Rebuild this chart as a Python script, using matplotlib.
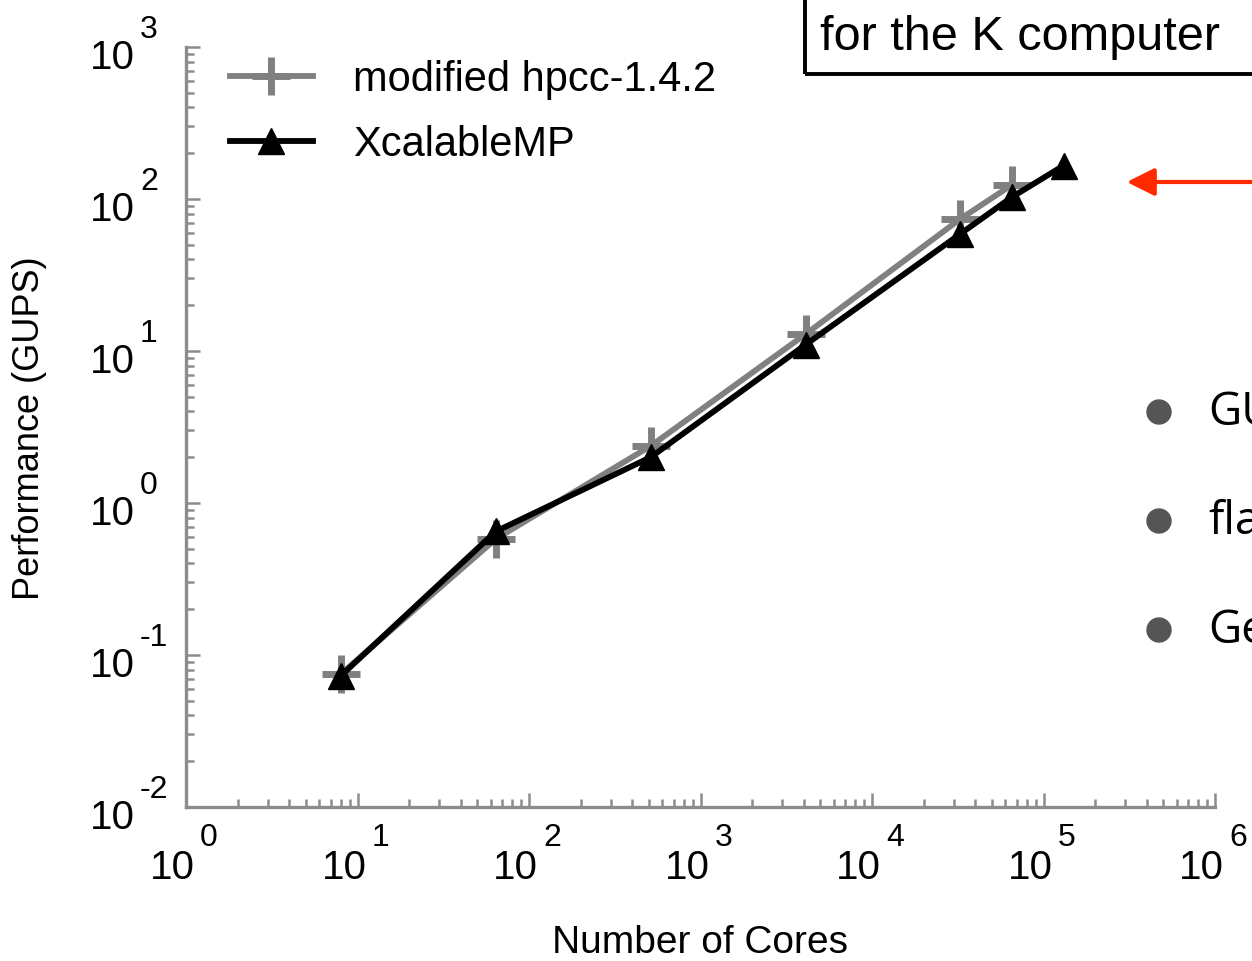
import matplotlib
matplotlib.use("Agg")
import matplotlib.pyplot as plt
import matplotlib.transforms as mtransforms
from matplotlib.patches import Rectangle, FancyArrowPatch, Ellipse

# data
cores_xmp = [8, 64, 512, 4096, 32768, 65536, 131072]
gups_xmp = [0.073, 0.65, 2.0, 11.0, 59.0, 103.0, 166.0]
cores_hpcc = [8, 64, 512, 4096, 32768, 65536]
gups_hpcc = [0.075, 0.58, 2.37, 12.9, 74.0, 124.0]
x_decades = [0, 1, 2, 3, 4, 5, 6]
y_decades = [-2, -1, 0, 1, 2, 3]
bullets = ["GUPS", "flat", "Ge"]

plt.rcParams['font.family'] = ['Liberation Sans', 'DejaVu Sans']
axis_gray = "#8c8c8c"

fig = plt.figure(figsize=(12.52, 9.62), dpi=100)
ax = fig.add_axes([186 / 1252, 1 - 808 / 962, (1215 - 186) / 1252, (808 - 48) / 962])

ax.plot(cores_hpcc, gups_hpcc, color="#808080", lw=4.2, marker="+", ms=28, mew=5,
        label="modified hpcc-1.4.2", zorder=3)
ax.plot(cores_xmp, gups_xmp, color="black", lw=4.2, marker="^", ms=19,
        label="XcalableMP", zorder=4)

ax.set_xscale("log")
ax.set_yscale("log")
ax.set_xlim(1, 1e6)
ax.set_ylim(1e-2, 1e3)

for s in ["top", "right"]:
    ax.spines[s].set_visible(False)
for s in ["left", "bottom"]:
    ax.spines[s].set_color(axis_gray)
    ax.spines[s].set_linewidth(2.4)
ax.tick_params(which="both", direction="in", color=axis_gray, width=1.8,
               labelbottom=False, labelleft=False)
ax.tick_params(which="major", length=10)
ax.tick_params(which="minor", length=6)
ax.set_xticks([10.0 ** d for d in x_decades])
ax.set_yticks([10.0 ** d for d in y_decades])

# tick labels drawn as "10" with a raised exponent
lab_fs = 29
exp_fs = 23
bx = ax.get_xaxis_transform()
for d in x_decades:
    t1 = mtransforms.offset_copy(bx, fig=fig, x=9, y=-71, units="dots")
    ax.text(10.0 ** d, 0, "10", transform=t1, ha="right", va="baseline", fontsize=lab_fs)
    t2 = mtransforms.offset_copy(bx, fig=fig, x=14, y=-38, units="dots")
    ax.text(10.0 ** d, 0, str(d), transform=t2, ha="left", va="baseline", fontsize=exp_fs)
by = ax.get_yaxis_transform()
for d in y_decades:
    t1 = mtransforms.offset_copy(by, fig=fig, x=-51, y=-21, units="dots")
    ax.text(0, 10.0 ** d, "10", transform=t1, ha="right", va="baseline", fontsize=lab_fs)
    t2 = mtransforms.offset_copy(by, fig=fig, x=-46, y=10, units="dots")
    ax.text(0, 10.0 ** d, str(d), transform=t2, ha="left", va="baseline", fontsize=exp_fs)

ax.set_xlabel("Number of Cores", fontsize=28, labelpad=84)
ax.set_ylabel("Performance (GUPS)", fontsize=26, labelpad=100)

leg = ax.legend(loc="upper left", bbox_to_anchor=(0.006, 1.033), frameon=False,
                fontsize=30, handlelength=2.0, handletextpad=0.95, labelspacing=0.6)

# slide decorations around the chart
fig.patches.append(Rectangle((805 / 1252, 1 - 75 / 962), 0.4, 0.2, transform=fig.transFigure,
                             fill=False, ec="black", lw=2.8))
fig.text(820 / 1252, 1 - 50 / 962, "for the K computer", fontsize=35, va="baseline")
fig.patches.append(FancyArrowPatch((1.01, 1 - 183 / 962), (1124 / 1252, 1 - 183 / 962),
                                   transform=fig.transFigure, arrowstyle="-|>",
                                   mutation_scale=42, color="#ff2a00", lw=3))
for i, b in enumerate(bullets):
    yb = 1 - (413 + i * 109) / 962
    fig.patches.append(Ellipse((1159 / 1252, yb), 24 / 1252, 24 / 962,
                               transform=fig.transFigure, color="#555555"))
    fig.text(1208 / 1252, yb, b, fontsize=33, va="center",
             family=['Open Sans', 'DejaVu Sans'])

fig.savefig("out.png", dpi=100)
